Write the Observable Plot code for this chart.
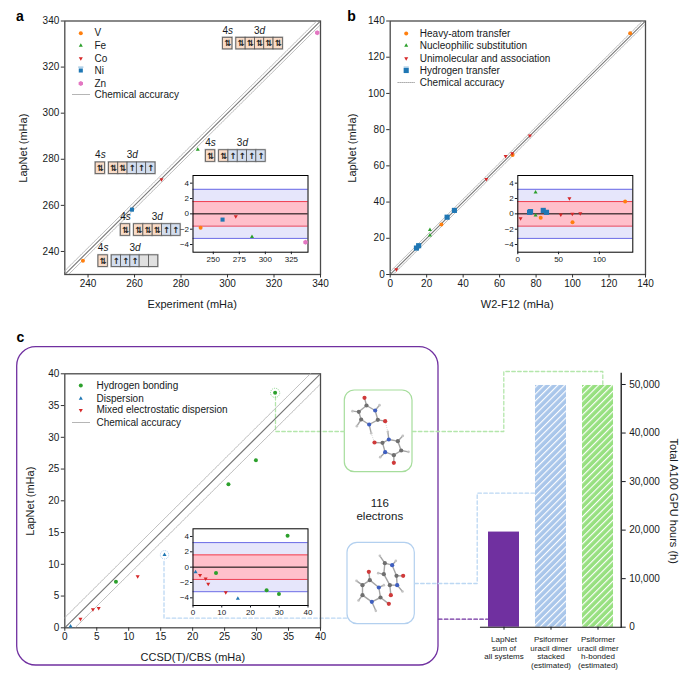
<!DOCTYPE html>
<html>
<head>
<meta charset="utf-8">
<script src="https://cdn.jsdelivr.net/npm/d3@7"></script>
<script src="https://cdn.jsdelivr.net/npm/@observablehq/plot@0.6"></script>
<style>
html,body{margin:0;padding:0;background:#fff;overflow:hidden}
#root{position:relative;width:692px;height:674px;overflow:hidden}
</style>
</head>
<body>
<div id="root"></div>
<script>
// ---------- data ----------
const chemicalAccuracy = 1.6;

const atomNames = ["V", "Fe", "Co", "Ni", "Zn"];
const atomExperiment = [237.8, 287.2, 271.6, 258.9, 338.6];
const atomLapNet = [236.0, 284.2, 271.25, 258.15, 334.9];

const reactionNames = ["Heavy-atom transfer", "Nucleophilic substitution", "Unimolecular and association", "Hydrogen transfer"];
const heavyW2 = [131.6, 67.1, 28.1];
const heavyLapNet = [133.2, 66.0, 27.6];
const nucleoW2 = [21.8, 21.8];
const nucleoLapNet = [24.6, 21.6];
const uniW2 = [3.4, 52.7, 63.3, 66.9, 76.6];
const uniLapNet = [2.8, 52.6, 65.3, 66.9, 76.65];
const hydrogenW2 = [14.4, 15.6, 31.2, 35.2];
const hydrogenLapNet = [14.6, 15.9, 31.65, 35.4];

const interactionNames = ["Hydrogen bonding", "Dispersion", "Mixed electrostatic dispersion"];
const hbondCBS = [32.9, 29.9, 25.6, 8];
const hbondLapNet = [37, 26.4, 22.6, 7.25];
const dispCBS = [15.6, 0.9];
const dispLapNet = [11.5, 0.25];
const mixedCBS = [2.45, 4.4, 5.3, 11.4];
const mixedLapNet = [1.4, 2.9, 3.1, 8.1];

const barLabels = ["LapNet\nsum of\nall systems", "Psiformer\nuracil dimer\nstacked\n(estimated)", "Psiformer\nuracil dimer\nh-bonded\n(estimated)"];
const barHours = [19600, 49800, 49800];

// orbital occupancy: 4s then five 3d boxes (2 paired, 1 single, 0 empty)
const orbitalAtoms = ["Zn", "Fe", "Co", "Ni", "V"];
const orbitalOccupancy = [
  [2, 2, 2, 2, 2, 2],
  [2, 2, 1, 1, 1, 1],
  [2, 2, 2, 1, 1, 1],
  [2, 2, 2, 2, 1, 1],
  [2, 1, 1, 1, 0, 0]
];
// anchor of each diagram, in panel a's own mHa units
const orbitalAnchorX = [298.1, 290.7, 243.3, 254.1, 244.5];
const orbitalAnchorY = [332.7, 283.9, 278.6, 251.8, 238.3];

// uracil dimers: element, x, y in the picture's own small frame
const hbondedAtoms = [["O",60,22],["C",66,45],["N",92,60],["H",105,44],["C",100,88],["O",122,92],["N",74,102],["C",50,87],["H",37,107],["C",43,64],["H",24,62],["H",80,128],
  ["N",133,147],["H",130,124],["C",114,157],["O",90,156],["N",122,185],["H",107,200],["C",148,194],["O",148,217],["C",170,180],["H",192,184],["C",160,152],["H",175,136]];
const hbondedBonds = [[0,1],[1,2],[2,3],[2,4],[4,5],[4,6],[6,7],[7,8],[7,9],[9,10],[9,1],[6,11],[12,13],[12,14],[14,15],[14,16],[16,17],[16,18],[18,19],[18,20],[20,21],[20,22],[22,23],[22,12]];
const hbondedLinks = [[11,15],[13,5]];
const stackedAtoms = [["O",67,88],["C",70,113],["N",97,135],["H",112,128],["C",102,165],["O",127,184],["N",76,178],["H",88,205],["C",48,158],["H",36,174],["C",48,128],["H",30,115],
  ["H",100,40],["C",115,62],["N",137,68],["H",148,55],["C",150,100],["O",170,100],["N",152,128],["H",168,147],["C",130,128],["O",133,158],["C",112,95],["H",95,92]];
const stackedBonds = [[0,1],[1,2],[2,3],[2,4],[4,5],[4,6],[6,7],[6,8],[8,9],[8,10],[10,11],[10,1],[12,13],[13,14],[14,15],[14,16],[16,17],[16,18],[18,19],[18,20],[20,21],[20,22],[22,23],[22,13]];

// ---------- styling ----------
const INK = "#161a22";
const FONT = "'Liberation Sans', Arial, sans-serif";
const ORANGE = "#ff7f0e", GREEN = "#2ca02c", RED = "#d62728", BLUE = "#1f77b4", PINK = "#e377c2";
const circle = {symbol: "circle", r: 2};
const up = {symbol: "triangle", r: 1.5};
const down = {symbol: "triangle", r: 1.5, rotate: 180};
const square = {symbol: "square", r: 2.3};
const bigSquare = {symbol: "square", r: 2.9};
const hexagon = {symbol: "hexagon", r: 2.2};
const atomStyles = [{...circle, fill: ORANGE}, {...up, fill: GREEN}, {...down, fill: RED}, {...square, fill: BLUE}, {...hexagon, fill: PINK}];
const reactionStyles = [{...circle, fill: ORANGE}, {...up, fill: GREEN}, {...down, fill: RED}, {...bigSquare, fill: BLUE}];
const interactionStyles = [{...circle, fill: GREEN}, {...up, fill: BLUE}, {...down, fill: RED}];

const root = document.getElementById("root");
function place(options, left, top) {
  const svg = Plot.plot({
    style: {background: "transparent", fontFamily: FONT, color: INK, overflow: "visible"},
    ...options
  });
  svg.style.position = "absolute";
  svg.style.left = left + "px";
  svg.style.top = top + "px";
  svg.style.maxWidth = "none";
  root.append(svg);
  return svg;
}
const zipXY = (xs, ys) => xs.map((x, i) => ({x, y: ys[i], err: ys[i] - x}));

// hatches
const defs = d3.select(root).append("svg").attr("width", 0).attr("height", 0).style("position", "absolute").append("defs");
[["hatchBlue", "#a9c6ea"], ["hatchGreen", "#97e080"]].forEach(([id, col]) => {
  const p = defs.append("pattern").attr("id", id).attr("width", 4.8).attr("height", 4.8)
    .attr("patternUnits", "userSpaceOnUse").attr("patternTransform", "rotate(45)");
  p.append("rect").attr("width", 4.8).attr("height", 4.8).attr("fill", col);
  p.append("rect").attr("width", 1.15).attr("height", 4.8).attr("fill", "white");
});

// ---------- page-level annotation layer (page pixels) ----------
const GREEN_LINE = "#b4e6ab", BLUE_LINE = "#bcd8f3", PURPLE = "#7030a0";
const connectors = [
  {stroke: GREEN_LINE, pts: [[275, 396], [275, 431], [344, 431]]},
  {stroke: GREEN_LINE, pts: [[412, 431], [503.3, 431], [503.3, 371], [602.3, 371], [602.3, 385]]},
  {stroke: BLUE_LINE, pts: [[163.5, 561], [163.5, 617.7], [347, 617.7]]},
  {stroke: BLUE_LINE, pts: [[414.3, 583], [476.7, 583], [476.7, 492.7], [534, 492.7]]},
  {stroke: PURPLE, pts: [[438, 618.7], [487, 618.7]]}
];
const connectorPts = connectors.flatMap((c, k) => c.pts.map(([x, y]) => ({x, y, k, stroke: c.stroke})));
const purpleBox = [{x1: 16.7, x2: 438, y1: 346.7, y2: 665}];
const moleculeBoxes = [
  {x1: 344.3, x2: 412, y1: 390, y2: 471.7, stroke: "#a6dd9c"},
  {x1: 347, x2: 414.3, y1: 542.3, y2: 623.7, stroke: "#b3d0ef"}
];
const panelLetters = [
  {t: "a", x: 19.5, y: 16},
  {t: "b", x: 351, y: 16},
  {t: "c", x: 20, y: 337}
];
const pageTexts = [
  {t: "Experiment (mHa)", x: 191.7, y: 304, s: 11},
  {t: "W2-F12 (mHa)", x: 516.7, y: 304, s: 11},
  {t: "CCSD(T)/CBS (mHa)", x: 192.3, y: 657.3, s: 11},
  {t: "LapNet (mHa)", x: 23, y: 147.7, s: 11, rot: -90},
  {t: "LapNet (mHa)", x: 351.7, y: 147.7, s: 11, rot: -90},
  {t: "LapNet (mHa)", x: 30, y: 500.7, s: 11, rot: -90},
  {t: "Total A100 GPU hours (h)", x: 673, y: 500.7, s: 11, rot: 90},
  {t: "116", x: 379.3, y: 503, s: 11.5},
  {t: "electrons", x: 379.3, y: 516, s: 11.5}
];
const legends = [
  {names: atomNames, styles: atomStyles, dotX: 80.3, textX: 94, rows: [32.7, 45, 58, 70, 83], lineX: [72, 90], chemY: 94},
  {names: reactionNames, styles: reactionStyles, dotX: 405.7, textX: 419.3, rows: [33, 45, 58, 70], lineX: [397.3, 414], chemY: 82},
  {names: interactionNames, styles: interactionStyles, dotX: 80.3, textX: 96, rows: [385, 398, 409.7], lineX: [72, 90], chemY: 422}
];
const legendMarks = legends.flatMap(l => [
  ...l.names.map((n, i) => Plot.dot([n], {x: () => l.dotX, y: () => l.rows[i], ...l.styles[i]})),
  Plot.text(l.names.concat("Chemical accuracy"), {
    x: () => l.textX, y: (d, i) => i < l.names.length ? l.rows[i] : l.chemY, text: d => d,
    textAnchor: "start", fontSize: 10, fill: INK
  }),
  Plot.line(l.lineX, {x: d => d, y: () => l.chemY, stroke: "#8a8a8a", strokeWidth: 0.7, strokeDasharray: "1,1"})
]);
const tCaps = legends.slice(0, 2).map(l => ({x1: l.dotX - 2.6, x2: l.dotX + 2.6, y: l.rows[3] - 3.4}));

place({
  width: 692, height: 674, margin: 0,
  x: {domain: [0, 692], range: [0, 692], axis: null},
  y: {domain: [0, 674], range: [0, 674], axis: null},
  marks: [
    Plot.rect(purpleBox, {x1: "x1", x2: "x2", y1: "y1", y2: "y2", fill: "none", stroke: PURPLE, strokeWidth: 1.3, rx: 19}),
    Plot.rect(moleculeBoxes, {x1: "x1", x2: "x2", y1: "y1", y2: "y2", fill: "none", stroke: "stroke", strokeWidth: 1.2, rx: 10}),
    Plot.line(connectorPts, {x: "x", y: "y", z: "k", stroke: "stroke", strokeWidth: 1.3, strokeDasharray: "3.5,2.4"}),
    ...legendMarks,
    Plot.link(tCaps, {x1: "x1", x2: "x2", y1: "y", y2: "y", stroke: "#7fb3d8", strokeWidth: 1}),
    Plot.text(panelLetters, {x: "x", y: "y", text: "t", fontSize: 14, fontWeight: "bold", fill: "#000"}),
    Plot.text(pageTexts, {x: "x", y: "y", text: "t", fontSize: "s", rotate: d => d.rot || 0, fill: INK})
  ]
}, 0, 0);

// ---------- scatter panels ----------
function diagonal(domain, offset) {
  const [a, b] = [domain[0] - 5, domain[1] + 5];
  return [[a, a + offset], [b, b + offset]];
}
function scatterPanel({domain, ticks, series, extra = [], left, top, width, height, ml, mr, mt, mb}) {
  return place({
    width, height, marginLeft: ml, marginRight: mr, marginTop: mt, marginBottom: mb,
    x: {domain, range: [ml, width - mr]},
    y: {domain, range: [height - mb, mt]},
    marks: [
      Plot.frame({stroke: "#4a4a4a", strokeWidth: 1.3}),
      Plot.axisX(ticks, {tickSize: 3.5, tickPadding: 2, fontSize: 10, label: null, stroke: "#333", fill: INK}),
      Plot.axisY(ticks, {tickSize: 3.5, tickPadding: 2, fontSize: 10, label: null, stroke: "#333", fill: INK}),
      ...[-chemicalAccuracy, chemicalAccuracy].map(o => Plot.line(diagonal(domain, o), {stroke: "#b0b0b0", strokeWidth: 0.8, strokeDasharray: "1.2,0.5", clip: true})),
      Plot.line(diagonal(domain, 0), {stroke: "#787878", strokeWidth: 1.1, clip: true}),
      ...extra,
      ...series.map(s => Plot.dot(s.data, {x: "x", y: "y", ...s.style}))
    ]
  }, left, top);
}
function insetPanel({domain, ticks, series, left, top, width, height, ml, mr, mt, mb}) {
  const bands = [
    {lo: -2 * chemicalAccuracy, hi: 2 * chemicalAccuracy, fill: "#e6e6fb"},
    {lo: -chemicalAccuracy, hi: chemicalAccuracy, fill: "#ffc0cb"}
  ];
  return place({
    width, height, marginLeft: ml, marginRight: mr, marginTop: mt, marginBottom: mb,
    x: {domain, range: [ml, width - mr]},
    y: {domain: [-5, 5], range: [height - mb, mt]},
    marks: [
      Plot.frame({fill: "white"}),
      Plot.rect(bands, {y1: "lo", y2: "hi", fill: "fill"}),
      Plot.ruleY([-2 * chemicalAccuracy, 2 * chemicalAccuracy], {stroke: "#6a6ae6", strokeWidth: 1}),
      Plot.ruleY([-chemicalAccuracy, chemicalAccuracy], {stroke: "#ef3e50", strokeWidth: 1}),
      Plot.ruleY([0], {stroke: "#000", strokeWidth: 1}),
      Plot.frame({stroke: "#000", strokeWidth: 1}),
      Plot.axisX(ticks, {tickSize: 2.5, tickPadding: 1.5, fontSize: 8, label: null, fill: INK}),
      Plot.axisY([-4, -2, 0, 2, 4], {tickSize: 2.5, tickPadding: 1.5, fontSize: 8, label: null, fill: INK}),
      ...series.map(s => Plot.dot(s.data, {x: "x", y: "err", ...s.style}))
    ]
  }, left, top);
}

// panel a
const atomSeries = atomNames.map((n, i) => ({data: zipXY([atomExperiment[i]], [atomLapNet[i]]), style: atomStyles[i]}));
const BOX_W = 4, BOX_H = 5, GAP = 5.7;
const orbitalCells = orbitalAtoms.flatMap((atom, a) => orbitalOccupancy[a].map((occ, k) => {
  const x1 = orbitalAnchorX[a] + (k === 0 ? 0 : GAP + (k - 1) * BOX_W);
  return {atom, k, occ, x1, x2: x1 + BOX_W, y2: orbitalAnchorY[a], y1: orbitalAnchorY[a] - BOX_H};
}));
const occFill = ["#e0e0e0", "#d3deef", "#f9dcc8"];
const occGlyph = ["", "↑", "⇅"];
const orbitalLabels = orbitalAtoms.flatMap((atom, a) => [
  {t: "4s", x: orbitalAnchorX[a] + BOX_W / 2, y: orbitalAnchorY[a] + 3.2},
  {t: "3d", x: orbitalAnchorX[a] + GAP + 2.5 * BOX_W, y: orbitalAnchorY[a] + 3.2}
]);
const orbitalMarks = [
  Plot.rect(orbitalCells, {x1: "x1", x2: "x2", y1: "y1", y2: "y2", fill: "none", stroke: "#bcbcbc", strokeWidth: 2}),
  Plot.rect(orbitalCells, {x1: "x1", x2: "x2", y1: "y1", y2: "y2", fill: d => occFill[d.occ], stroke: "#555", strokeWidth: 0.8}),
  Plot.text(orbitalCells.filter(d => d.occ), {x: d => (d.x1 + d.x2) / 2, y: d => (d.y1 + d.y2) / 2, text: d => occGlyph[d.occ], fontSize: 8.5, fontWeight: "bold", fill: "#222", fontFamily: "DejaVu Sans"}),
  Plot.text(orbitalLabels, {x: "x", y: "y", text: "t", fontSize: 10, fill: INK})
];
const panelA = scatterPanel({
  domain: [230, 340], ticks: d3.range(240, 341, 20), series: atomSeries, extra: orbitalMarks,
  left: 0, top: 0, width: 340, height: 320, ml: 64.3, mr: 20, mt: 20.5, mb: 46
});
insetPanel({
  domain: [230.5, 341], ticks: [250, 275, 300, 325], series: atomSeries,
  left: 160, top: 165, width: 155, height: 105, ml: 32.5, mr: 7.5, mt: 10, mb: 18.3
});
d3.select(panelA).selectAll("text").each(function () {
  const t = this.textContent;
  if (t === "4s" || t === "3d") this.innerHTML = `${t[0]}<tspan font-style="italic">${t[1]}</tspan>`;
});

// panel b
const reactionSeries = [[heavyW2, heavyLapNet], [nucleoW2, nucleoLapNet], [uniW2, uniLapNet], [hydrogenW2, hydrogenLapNet]]
  .map(([xs, ys], i) => ({data: zipXY(xs, ys), style: reactionStyles[i]}));
scatterPanel({
  domain: [0, 140], ticks: d3.range(0, 141, 20), series: reactionSeries,
  left: 340, top: 0, width: 340, height: 320, ml: 49.7, mr: 35, mt: 20.5, mb: 46
});
insetPanel({
  domain: [0, 141], ticks: [0, 50, 100], series: reactionSeries,
  left: 490, top: 165, width: 150, height: 105, ml: 27.3, mr: 7.7, mt: 10, mb: 18.3
});

// panel c
const interactionSeries = [[hbondCBS, hbondLapNet], [dispCBS, dispLapNet], [mixedCBS, mixedLapNet]]
  .map(([xs, ys], i) => ({data: zipXY(xs, ys), style: interactionStyles[i]}));
const rings = [
  Plot.dot(zipXY([hbondCBS[0]], [hbondLapNet[0]]), {x: "x", y: "y", r: 4.6, fill: "none", stroke: "#7fcf80", strokeWidth: 0.9, strokeDasharray: "1,1"}),
  Plot.dot(zipXY([dispCBS[0]], [dispLapNet[0]]), {x: "x", y: "y", r: 4.2, fill: "none", stroke: "#9cc4ec", strokeWidth: 0.9, strokeDasharray: "1,1"})
];
scatterPanel({
  domain: [0, 40], ticks: d3.range(0, 41, 5), series: interactionSeries, extra: rings,
  left: 0, top: 350, width: 340, height: 310, ml: 64.3, mr: 20, mt: 23.3, mb: 32.7
});
insetPanel({
  domain: [0, 40], ticks: d3.range(0, 41, 10), series: interactionSeries,
  left: 160, top: 518, width: 155, height: 105, ml: 32.5, mr: 7.5, mt: 10.3, mb: 18
});

// ---------- GPU bars ----------
const barTable = barLabels.map((label, i) => ({label, hours: barHours[i], fill: ["#7030a0", "url(#hatchBlue)", "url(#hatchGreen)"][i]}));
place({
  width: 232, height: 314, marginLeft: 20, marginRight: 71.3, marginTop: 13, marginBottom: 47.3,
  x: {domain: barLabels, paddingInner: 0.348, paddingOuter: 0.144},
  y: {domain: [0, 52266]},
  color: {type: "identity"},
  marks: [
    Plot.barY(barTable, {x: "label", y: "hours", fill: "fill"}),
    Plot.frame({anchor: "bottom", stroke: "#111", strokeWidth: 1.1}),
    Plot.frame({anchor: "right", stroke: "#111", strokeWidth: 1.3}),
    Plot.axisX({tickSize: 3, tickPadding: 5, fontSize: 8, lineHeight: 1.12, label: null, fill: INK}),
    Plot.axisY(d3.range(0, 50001, 10000), {anchor: "right", tickSize: 4, tickPadding: 4, fontSize: 10, tickFormat: d3.format(","), label: null, fill: INK})
  ]
}, 460, 360);

// ---------- molecules ----------
function molecule(atoms, bonds, hLinks, left, top) {
  const pos = atoms.map(([e, x, y]) => ({e, x, y}));
  const seg = list => list.map(([a, b]) => ({x1: pos[a].x, y1: pos[a].y, x2: pos[b].x, y2: pos[b].y}));
  const col = {C: "#6f6f6f", N: "#3f5fc0", O: "#cf3a3a", H: "#c4c4c4"};
  const rad = {C: 2.1, N: 2.1, O: 2.1, H: 1.3};
  const svg = place({
    width: 70, height: 82, margin: 0,
    x: {domain: [0, 210], range: [0, 70], axis: null},
    y: {domain: [0, 246], range: [0, 82], axis: null},
    r: {type: "identity"},
    color: {type: "identity"},
    marks: [
      Plot.link(seg(hLinks), {x1: "x1", y1: "y1", x2: "x2", y2: "y2", stroke: "#d6d6d6", strokeWidth: 1, strokeDasharray: "1,1"}),
      Plot.link(seg(bonds), {x1: "x1", y1: "y1", x2: "x2", y2: "y2", stroke: "#a4a4a4", strokeWidth: 1.4}),
      Plot.dot(pos, {x: "x", y: "y", r: d => rad[d.e], fill: d => col[d.e]})
    ]
  }, left, top);
  svg.style.filter = "blur(0.35px)";
}
molecule(hbondedAtoms, hbondedBonds, hbondedLinks, 344, 390);
molecule(stackedAtoms, stackedBonds, [], 346, 542);
</script>
</body>
</html>
